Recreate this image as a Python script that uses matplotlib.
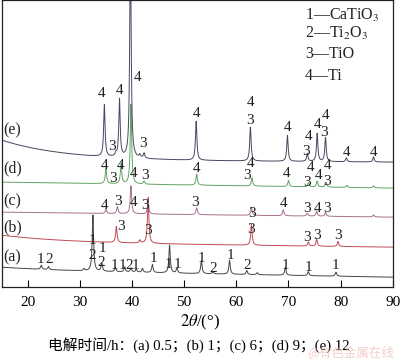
import numpy as np
import matplotlib
matplotlib.use("Agg")
import matplotlib.pyplot as plt

plt.rcParams['mathtext.fontset'] = 'stix'
SERIF = ['Liberation Serif', 'Noto Sans CJK SC', 'DejaVu Sans']

# 2theta range
two_theta = np.linspace(15, 90, 3000)

# background: value at 15 deg, value at 90 deg, extra decay near low angle
names = ['(a)', '(b)', '(c)', '(d)', '(e)']
bg_start = [17, 45, 75, 105, 127]
bg_end = [10, 40, 70, 99, 125]
bg_decay = [3, 7, 0, 0, 20]

# peaks: (2theta, height above background)
peaks_a = [(22.6, 4), (24.0, 3), (30.8, 2), (32.5, 56), (34.2, 8), (36.8, 4),
           (38.6, 5), (39.8, 4), (40.8, 3), (42.0, 4), (43.9, 8), (47.2, 28),
           (48.6, 5), (53.3, 13), (55.5, 2), (58.7, 14), (62.0, 4), (64.0, 2),
           (69.4, 8), (73.8, 4), (79.1, 4)]
peaks_b = [(37.0, 16), (41.5, 3), (43.1, 46), (62.9, 21), (73.8, 4),
           (75.4, 7), (79.5, 5)]
peaks_c = [(35.0, 4), (37.2, 7), (39.8, 28), (43.1, 12), (52.4, 7),
           (62.9, 8), (69.0, 6), (73.6, 3), (75.4, 5), (77.1, 4), (86.3, 2)]
peaks_d = [(35.0, 15), (37.9, 20), (39.8, 80), (42.3, 3), (52.4, 11),
           (63.0, 8), (70.0, 6), (73.8, 4), (75.5, 6), (77.2, 5), (81.2, 2),
           (86.3, 2)]
peaks_e = [(34.7, 52), (36.9, 3), (37.6, 58), (39.7, 220), (41.5, 3),
           (42.3, 5), (52.3, 39), (62.7, 34), (69.8, 26), (73.6, 8),
           (75.5, 28), (77.1, 24), (81.1, 4), (86.3, 5)]
all_peaks = [peaks_a, peaks_b, peaks_c, peaks_d, peaks_e]

colors = ['#454545', '#c04856', '#a8708f', '#62a462', '#474760']

# phase labels: (2theta, intensity, text)
labels_a = [(22.4, 28, '1'), (24.2, 28, '2'), (32.4, 47, '1'), (32.4, 32, '2'),
            (34.3, 39, '1'), (34.1, 25, '2'), (36.6, 22, '1'), (38.2, 22, '1'),
            (39.4, 22, '2'), (40.6, 22, '1'), (44.1, 29, '1'), (47.0, 23, '1'),
            (48.7, 23, '1'), (53.3, 29, '1'), (55.6, 19, '2'), (58.8, 32, '1'),
            (62.1, 22, '2'), (69.4, 22, '1'), (73.8, 20, '1'), (79.0, 22, '1')]
labels_b = [(37.8, 61, '3'), (43.1, 57, '3'), (62.9, 58, '3'), (73.6, 50, '3'),
            (75.5, 52, '3'), (79.5, 52, '3')]
labels_c = [(34.7, 82, '4'), (37.4, 86, '3'), (40.3, 85, '4'), (42.4, 82, '3'),
            (52.1, 85, '3'), (63.1, 74, '3'), (69.0, 84, '4'), (73.6, 79, '3'),
            (75.5, 79, '4'), (77.3, 79, '3')]
labels_d = [(34.7, 122, '4'), (36.4, 109, '3'), (37.8, 122, '4'), (40.3, 114, '4'),
            (42.4, 112, '3'), (52.3, 119, '4'), (62.7, 124, '4'), (62.1, 112, '3'),
            (69.6, 114, '4'), (73.6, 105, '3'), (74.2, 120, '4'), (75.7, 112, '4'),
            (77.4, 122, '4'), (77.4, 106, '3')]
labels_e = [(34.1, 194, '4'), (37.6, 197, '4'), (41.0, 210, '4'), (36.2, 141, '3'),
            (42.2, 144, '3'), (52.3, 174, '4'), (62.7, 185, '4'), (62.7, 167, '3'),
            (69.8, 160, '4'), (73.8, 151, '4'), (73.4, 136, '3'), (75.5, 163, '4'),
            (77.1, 172, '4'), (76.9, 155, '3'), (81.1, 135, '4'), (86.3, 135, '4')]
all_labels = [labels_a, labels_b, labels_c, labels_d, labels_e]

name_y = [30, 60, 86, 119, 157]

legend_lines = ['1—CaTiO$_3$', '2—Ti$_2$O$_3$', '3—TiO', '4—Ti']
legend_y = [272, 254, 233, 211]

caption = '电解时间/h：(a) 0.5；(b) 1；(c) 6；(d) 9；(e) 12'


def pattern(peaks, b0, b1, dec):
    y = b0 + (b1 - b0) * (two_theta - 15) / 75 + dec * np.exp(-(two_theta - 15) / 12)
    g = 0.16
    for c, h in peaks:
        y = y + h * g**2 / ((two_theta - c)**2 + g**2)
    return y


fig = plt.figure(figsize=(4.0, 3.59), dpi=100)
ax = fig.add_axes([0.004, 0.2, 0.978, 0.8])

for i in range(5):
    y = pattern(all_peaks[i], bg_start[i], bg_end[i], bg_decay[i])
    ax.plot(two_theta, y, color=colors[i], lw=0.7)
    for x, yy, t in all_labels[i]:
        ax.text(x, yy, t, ha='center', va='center', fontsize=11,
                family=SERIF, color='#222222')
    ax.text(15.4, name_y[i], names[i], ha='left', va='center', fontsize=11.5,
            family=SERIF, color='#222222')

for t, yy in zip(legend_lines, legend_y):
    ax.text(73.2, yy, t, ha='left', va='center', fontsize=11.5,
            family=SERIF, color='#222222')

ax.set_xlim(15, 90)
ax.set_ylim(0, 287)
ax.set_yticks([])
ax.set_xticks([20, 30, 40, 50, 60, 70, 80, 90])
ax.tick_params(axis='x', direction='in', length=5, width=0.8, pad=6,
               labelsize=11)
for lab in ax.get_xticklabels():
    lab.set_family(SERIF)
for s in ax.spines.values():
    s.set_linewidth(0.9)
    s.set_color('#222222')

fig.text(0.5, 1 - 322 / 359, r'$2\theta$/(°)', ha='center', va='center',
         fontsize=12, family=SERIF)
fig.text(0.12, 1 - 345 / 359, caption, ha='left', va='center', fontsize=10.6,
         family=SERIF)
# faint watermark in the lower right corner
fig.text(0.985, 1 - 352 / 359, '@有色金属在线', ha='right', va='center',
         fontsize=9, family=['Noto Sans CJK SC', 'DejaVu Sans'], color='#f2b8b8',
         alpha=0.7)

fig.savefig('out.png', dpi=100)
